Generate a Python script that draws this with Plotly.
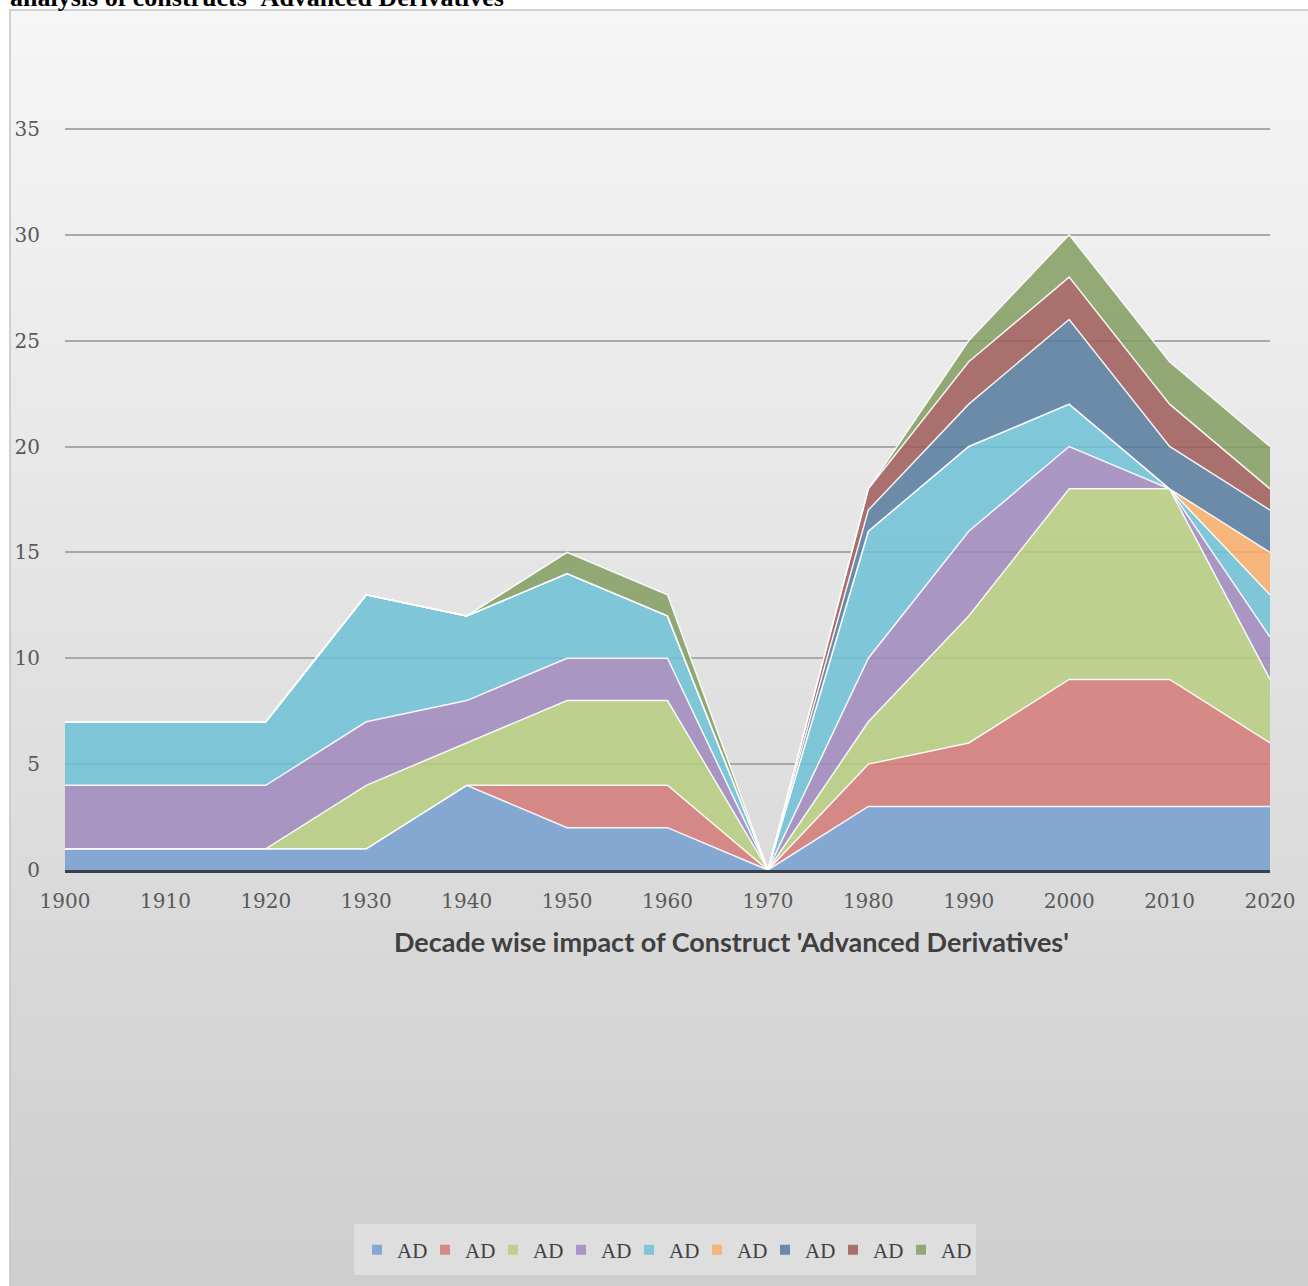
import plotly.graph_objects as go

# Decades on the horizontal axis
decades = [1900, 1910, 1920, 1930, 1940, 1950, 1960, 1970, 1980, 1990, 2000, 2010, 2020]

# Nine stacked "AD" series, bottom to top
ad_blue = [1, 1, 1, 1, 4, 2, 2, 0, 3, 3, 3, 3, 3]
ad_red = [0, 0, 0, 0, 0, 2, 2, 0, 2, 3, 6, 6, 3]
ad_green = [0, 0, 0, 3, 2, 4, 4, 0, 2, 6, 9, 9, 3]
ad_purple = [3, 3, 3, 3, 2, 2, 2, 0, 3, 4, 2, 0, 2]
ad_cyan = [3, 3, 3, 6, 4, 4, 2, 0, 6, 4, 2, 0, 2]
ad_orange = [0, 0, 0, 0, 0, 0, 0, 0, 0, 0, 0, 0, 2]
ad_navy = [0, 0, 0, 0, 0, 0, 0, 0, 1, 2, 4, 2, 2]
ad_darkred = [0, 0, 0, 0, 0, 0, 0, 0, 1, 2, 2, 2, 1]
ad_olive = [0, 0, 0, 0, 0, 1, 1, 0, 0, 1, 2, 2, 2]

series_names = ["AD"] * 9
y_ticks = [0, 5, 10, 15, 20, 25, 30, 35]

series = [ad_blue, ad_red, ad_green, ad_purple, ad_cyan,
          ad_orange, ad_navy, ad_darkred, ad_olive]
fill_colors = [
    "rgba(116,159,208,0.85)",
    "rgba(210,122,119,0.85)",
    "rgba(182,204,127,0.85)",
    "rgba(160,136,188,0.85)",
    "rgba(110,193,215,0.85)",
    "rgba(249,173,103,0.85)",
    "rgba(86,122,157,0.85)",
    "rgba(157,90,88,0.85)",
    "rgba(130,158,96,0.85)",
]
legend_colors = ["#85A9D3", "#D58A87", "#BDD08E", "#AA96C2", "#80C6D9",
                 "#F6B57A", "#6B8AA8", "#A86F6D", "#91A874"]

W, H = 1308, 1286
ML, MR, MT, MB = 65, 38, 23, 416
PW, PH = W - ML - MR, H - MT - MB


def px_x(p):
    return (p - ML) / PW


def px_y(p):
    return (H - MB - p) / PH


fig = go.Figure()

for vals, name, fc in zip(series, series_names, fill_colors):
    fig.add_trace(go.Scatter(
        x=decades, y=vals, name=name, mode="lines",
        stackgroup="ad", fillcolor=fc,
        line=dict(color="rgba(255,255,255,0.9)", width=1.5),
        showlegend=False, hoverinfo="x+y",
    ))

# Legend entries as small squares
for name, lc in zip(series_names, legend_colors):
    fig.add_trace(go.Scatter(
        x=[None], y=[None], name=name, mode="markers",
        marker=dict(symbol="square", size=10, color=lc),
        showlegend=True,
    ))
# Blank trailing slot so the last label is not clipped by the legend box
fig.add_trace(go.Scatter(
    x=[None], y=[None], name=" ", mode="markers",
    marker=dict(symbol="square", size=10, color="rgba(0,0,0,0)"),
    showlegend=True, hoverinfo="skip",
))

# Chart-area background: vertical light-to-grey gradient drawn in bands
shapes = []
top_px, bot_px = 10, H
n_bands = 80
c_top, c_bot = 246, 206
for i in range(n_bands):
    y0 = top_px + (bot_px - top_px) * i / n_bands
    y1 = top_px + (bot_px - top_px) * (i + 1) / n_bands + 0.6
    c = round(c_top + (c_bot - c_top) * (i + 0.5) / n_bands)
    shapes.append(dict(
        type="rect", xref="paper", yref="paper", layer="below",
        x0=px_x(10), x1=px_x(W + 2), y0=px_y(min(y1, bot_px)), y1=px_y(y0),
        fillcolor=f"rgb({c},{c},{c})", line=dict(width=0),
    ))
# Frame of the chart area
shapes.append(dict(
    type="rect", xref="paper", yref="paper", layer="below",
    x0=px_x(10), x1=px_x(W + 5), y0=px_y(H + 5), y1=px_y(10),
    fillcolor="rgba(0,0,0,0)", line=dict(color="#c4c4c4", width=1.5),
))
# Legend panel
shapes.append(dict(
    type="rect", xref="paper", yref="paper", layer="below",
    x0=px_x(354), x1=px_x(976), y0=px_y(1275), y1=px_y(1224),
    fillcolor="#dedede", line=dict(width=0),
))

fig.update_layout(
    width=W, height=H,
    margin=dict(l=ML, r=MR, t=MT, b=MB, autoexpand=False),
    paper_bgcolor="white",
    plot_bgcolor="rgba(0,0,0,0)",
    shapes=shapes,
    showlegend=True,
    legend=dict(
        orientation="h", x=px_x(697), xanchor="center",
        y=px_y(1250), yanchor="middle", traceorder="normal",
        bgcolor="rgba(0,0,0,0)", borderwidth=0,
        font=dict(family="Liberation Serif", size=21, color="#404040"),
        itemwidth=30, entrywidth=23, entrywidthmode="pixels",
        itemclick=False, itemdoubleclick=False,
    ),
    xaxis=dict(
        range=[1900, 2020], tickvals=decades,
        ticktext=[str(d) for d in decades],
        showgrid=False, zeroline=False,
        showline=True, linecolor="#3a3f48", linewidth=3,
        layer="above traces",
        tickfont=dict(family="DejaVu Serif", size=20, color="#595959"),
        ticks="", ticklabelstandoff=11,
    ),
    yaxis=dict(
        range=[0, 40], tickvals=y_ticks,
        showgrid=True, gridcolor="#a9a9a9", gridwidth=1.5,
        zeroline=False, showline=False,
        tickfont=dict(family="DejaVu Serif", size=20, color="#595959"),
        ticks="", ticklabelstandoff=24,
    ),
    annotations=[
        dict(
            text="Decade wise impact of Construct 'Advanced Derivatives'",
            xref="paper", yref="paper", x=px_x(731), y=px_y(941),
            xanchor="center", yanchor="middle", showarrow=False,
            font=dict(family="Lato", size=27, color="#404040", weight="bold"),
        ),
        dict(
            text="analysis of constructs 'Advanced Derivatives'",
            xref="paper", yref="paper", x=px_x(8), y=px_y(-3),
            xanchor="left", yanchor="middle", showarrow=False,
            font=dict(family="Liberation Serif", size=26, color="#000000",
                      weight="bold"),
        ),
    ],
)

fig.write_html("out.html")
